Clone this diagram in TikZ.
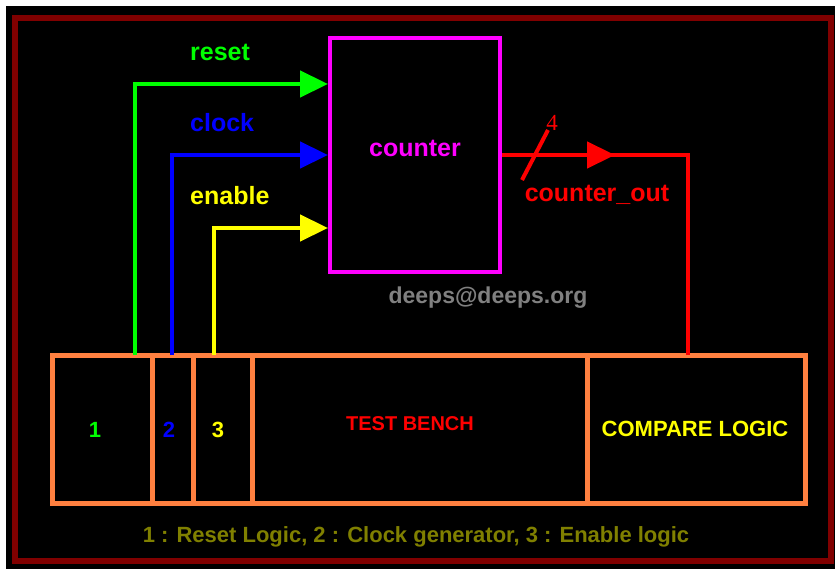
\documentclass[tikz,border=0pt]{standalone}
\usepackage{fontspec}
\setmainfont{Liberation Sans}
\newfontfamily\serifnum{Liberation Serif}
\usetikzlibrary{arrows.meta}

\definecolor{benchorange}{HTML}{FF8040}
\definecolor{framered}{HTML}{800000}
\definecolor{capolive}{HTML}{808000}
\definecolor{mailgray}{HTML}{808080}
\definecolor{sigmagenta}{HTML}{FF00FF}
\definecolor{siggreen}{HTML}{00FF00}
\definecolor{sigblue}{HTML}{0000FF}
\definecolor{sigyellow}{HTML}{FFFF00}
\definecolor{sigred}{HTML}{FF0000}

\tikzset{
	sig/.style={line width=4.5pt},
	tip/.style={-{Triangle[length=28pt,width=26pt]}},
	part/.style={draw=benchorange, line width=5pt, minimum height=148pt, inner sep=0pt},
	lbl/.style={font=\bfseries\fontsize{25}{27}\selectfont, inner sep=0pt},
	txt/.style={font=\bfseries\fontsize{#1}{#1}\selectfont, inner sep=0pt}
}

\begin{document}
\begin{tikzpicture}[x=1pt,y=-1pt]
		\useasboundingbox (0,0) rectangle (835,569);
		%background and frame
		\fill[black] (6,6) rectangle (835,569);
		\draw[framered, line width=6pt] (15,18) rectangle (831,561);
		
		%counter
		\node[draw=sigmagenta, line width=4pt, minimum width=170pt, minimum height=234pt, inner sep=0pt] (counter) at (415,155) {};
		\node[lbl, text=sigmagenta] (countername) at (415,148) {counter};
		
		%test bench parts
		\node[part, minimum width=100pt] (rst) at (102,429) {};
		\node[part, minimum width=41pt] (clk) at (172.5,429) {};
		\node[part, minimum width=59pt] (en) at (222.5,429) {};
		\node[part, minimum width=335pt] (tb) at (419.5,429) {};
		\node[part, minimum width=218pt] (cmp) at (696,429) {};
		\node[txt=22, text=siggreen] (rstnum) at (95,430) {1};
		\node[txt=22, text=sigblue] (clknum) at (169,430) {2};
		\node[txt=22, text=sigyellow] (ennum) at (218,430) {3};
		\node[txt=20, text=sigred] (tbname) at (410,424) {TEST BENCH};
		\node[txt=22, text=sigyellow] (cmpname) at (695,429) {COMPARE LOGIC};
		
		%inputs
		\foreach \n/\x/\y/\c in {reset/135/84/siggreen, clock/172/155/sigblue, enable/214/228/sigyellow}{
			\coordinate (\n tap) at (\x,355);
			\draw[sig, tip, \c] (\n tap) |- (counter.west |- 0,\y);
			\node[lbl, text=\c, anchor=west] (\n) at (190,\y-32) {\n};
		}
		
		%output
		\coordinate (cmptap) at (688,355);
		\coordinate (outarrow) at (615,155);
		\draw[sig, sigred] (counter.east) -| (cmptap);
		\draw[sig, tip, sigred] (counter.east) -- (outarrow);
		\draw[sigred, line width=4pt] (522,180) -- (548,130);
		\node[text=sigred, font=\serifnum\fontsize{23}{23}\selectfont, inner sep=0pt] (width) at (552,123) {4};
		\node[lbl, text=sigred] (counterout) at (597,195) {counter\_out};
		
		\node[txt=23, text=mailgray] (mail) at (488,298) {deeps@deeps.org};
		\node[txt=22, text=capolive] (caption) at (416,537) {1 : Reset Logic, 2 : Clock generator, 3 : Enable logic};
\end{tikzpicture}
\end{document}
